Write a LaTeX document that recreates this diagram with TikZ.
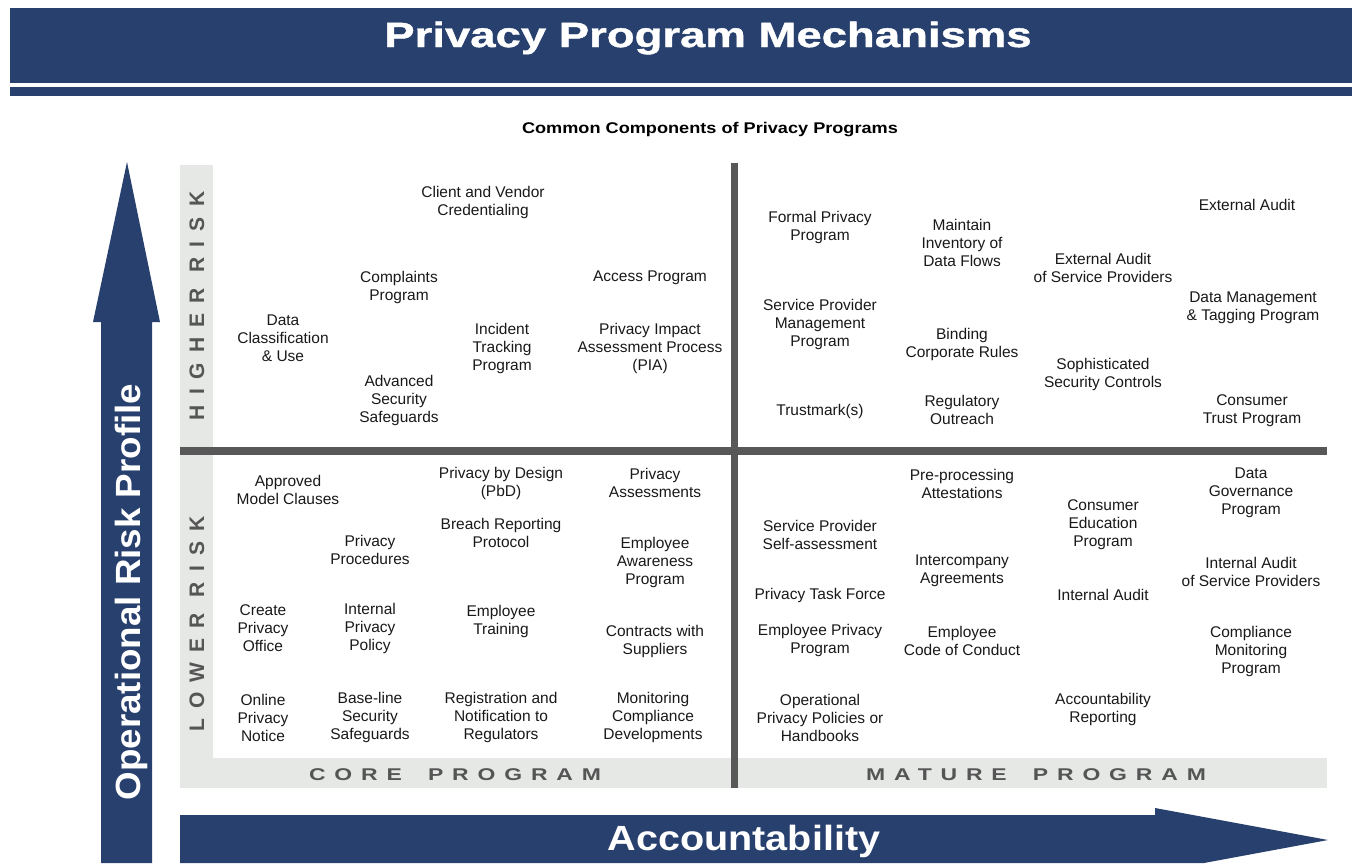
\documentclass[tikz,border=0pt]{standalone}
\usepackage{fontspec}
\setmainfont{Liberation Sans}
\newfontfamily\titlefont[FakeStretch=1.30,FakeBold=1.2]{Liberation Sans}
\newfontfamily\accfont[FakeStretch=1.13]{Liberation Sans}
\newfontfamily\axisfont[FakeStretch=1.05]{Liberation Sans}
\newfontfamily\subfont[FakeStretch=1.17]{Liberation Sans}
\newfontfamily\riskfont[LetterSpace=48]{Liberation Sans}
\newfontfamily\progfont[FakeStretch=1.35,LetterSpace=52]{Liberation Sans}

\definecolor{navy}{RGB}{40,64,110}
\definecolor{bandgray}{RGB}{229,232,229}
\definecolor{divider}{RGB}{88,88,88}
\definecolor{sidetext}{RGB}{85,85,85}
\definecolor{labeltext}{RGB}{25,25,25}

\tikzset{
  item/.style={align=center, inner sep=0pt, text=labeltext,
    font=\fontsize{15.5}{18}\selectfont},
  sidelabel/.style={rotate=90, inner sep=0pt, text=sidetext,
    font=\riskfont\bfseries\fontsize{21}{21}\selectfont},
  proglabel/.style={anchor=base, inner sep=0pt, text=sidetext,
    font=\progfont\bfseries\fontsize{17}{17}\selectfont},
}

\begin{document}
\begin{tikzpicture}[x=1pt, y=-1pt]
\useasboundingbox (0,0) rectangle (1352,863);
\fill[white] (0,0) rectangle (1352,863);

% title banner with its thin rule
\fill[navy] (10,8) rectangle (1352,83);
\fill[navy] (10,87) rectangle (1352,96);
\node[anchor=base, inner sep=0pt, text=white,
  font=\titlefont\bfseries\fontsize{35}{35}\selectfont] (title) at (708,47)
  {Privacy Program Mechanisms};

\node[anchor=base, inner sep=0pt, text=black,
  font=\subfont\bfseries\fontsize{15.5}{15.5}\selectfont] (subtitle) at (710,133)
  {Common Components of Privacy Programs};

% vertical axis arrow
\fill[navy] (101,863) -- (101,322) -- (93,322) -- (127,162) -- (160,322)
  -- (152,322) -- (152,863) -- cycle;
\node[rotate=90, anchor=base, inner sep=0pt, text=white,
  font=\axisfont\bfseries\fontsize{35}{35}\selectfont] (riskaxis) at (140,592)
  {Operational Risk Profile};

% horizontal axis arrow
\fill[navy] (180,815) -- (1155,815) -- (1155,808) -- (1328,840) -- (1204,863)
  -- (180,863) -- cycle;
\node[anchor=base, inner sep=0pt, text=white,
  font=\accfont\bfseries\fontsize{35}{35}\selectfont] (accaxis) at (744,850)
  {Accountability};

% grey bands along the left and bottom of the grid
\fill[bandgray] (180,165) rectangle (213,788);
\fill[bandgray] (180,758) rectangle (1327,788);

% quadrant dividers
\fill[divider] (180,447) rectangle (1327,455);
\fill[divider] (731,163) rectangle (738,788);

% band labels
\node[sidelabel] (higher) at (197,306) {HIGHER RISK};
\node[sidelabel] (lower) at (197,624) {LOWER RISK};
\node[proglabel] (core) at (455,780) {CORE\hspace{11pt} PROGRAM};
\node[proglabel] (mature) at (1036,780) {MATURE\hspace{11pt} PROGRAM};

% core program, higher risk
\node[item] (cvc) at (483,202) {Client and Vendor\\Credentialing};
\node[item] (cmp) at (399,287) {Complaints\\Program};
\node[item] (acc) at (650,278) {Access Program};
\node[item] (dcu) at (283,338) {Data\\Classification\\\& Use};
\node[item] (itp) at (502,348) {Incident\\Tracking\\Program};
\node[item] (pia) at (650,348) {Privacy Impact\\Assessment Process\\(PIA)};
\node[item] (ass) at (399,400) {Advanced\\Security\\Safeguards};

% mature program, higher risk
\node[item] (fpp) at (820,227) {Formal Privacy\\Program};
\node[item] (inv) at (962,243) {Maintain\\Inventory of\\Data Flows};
\node[item] (ext) at (1247,205) {External Audit};
\node[item] (exs) at (1103,268) {External Audit\\of Service Providers};
\node[item] (dmt) at (1253,308) {Data Management\\\& Tagging Program};
\node[item] (spm) at (820,324) {Service Provider\\Management\\Program};
\node[item] (bcr) at (962,344) {Binding\\Corporate Rules};
\node[item] (ssc) at (1103,374) {Sophisticated\\Security Controls};
\node[item] (tmk) at (820,411) {Trustmark(s)};
\node[item] (reg) at (962,410) {Regulatory\\Outreach};
\node[item] (ctp) at (1252,411) {Consumer\\Trust Program};

% core program, lower risk
\node[item] (amc) at (288,490) {Approved\\Model Clauses};
\node[item] (pbd) at (501,483) {Privacy by Design\\(PbD)};
\node[item] (pas) at (655,483) {Privacy\\Assessments};
\node[item] (brp) at (501,533) {Breach Reporting\\Protocol};
\node[item] (ppr) at (370,550) {Privacy\\Procedures};
\node[item] (eap) at (655,562) {Employee\\Awareness\\Program};
\node[item] (cpo) at (263,628) {Create\\Privacy\\Office};
\node[item] (ipp) at (370,628) {Internal\\Privacy\\Policy};
\node[item] (etr) at (501,621) {Employee\\Training};
\node[item] (cws) at (655,641) {Contracts with\\Suppliers};
\node[item] (opn) at (263,718) {Online\\Privacy\\Notice};
\node[item] (bss) at (370,717) {Base-line\\Security\\Safeguards};
\node[item] (rnr) at (501,717) {Registration and\\Notification to\\Regulators};
\node[item] (mcd) at (653,717) {Monitoring\\Compliance\\Developments};

% mature program, lower risk
\node[item] (ppa) at (962,484) {Pre-processing\\Attestations};
\node[item] (dgp) at (1251,493) {Data\\Governance\\Program};
\node[item] (cep) at (1103,525) {Consumer\\Education\\Program};
\node[item] (sps) at (820,535) {Service Provider\\Self-assessment};
\node[item] (ica) at (962,571) {Intercompany\\Agreements};
\node[item] (ias) at (1251,572) {Internal Audit\\of Service Providers};
\node[item] (ptf) at (820,595) {Privacy Task Force};
\node[item] (iau) at (1103,595) {Internal Audit};
\node[item] (epp) at (820,640) {Employee Privacy\\Program};
\node[item] (ecc) at (962,641) {Employee\\Code of Conduct};
\node[item] (cmo) at (1251,651) {Compliance\\Monitoring\\Program};
\node[item] (oph) at (820,718) {Operational\\Privacy Policies or\\Handbooks};
\node[item] (arp) at (1103,709) {Accountability\\Reporting};
\end{tikzpicture}
\end{document}
